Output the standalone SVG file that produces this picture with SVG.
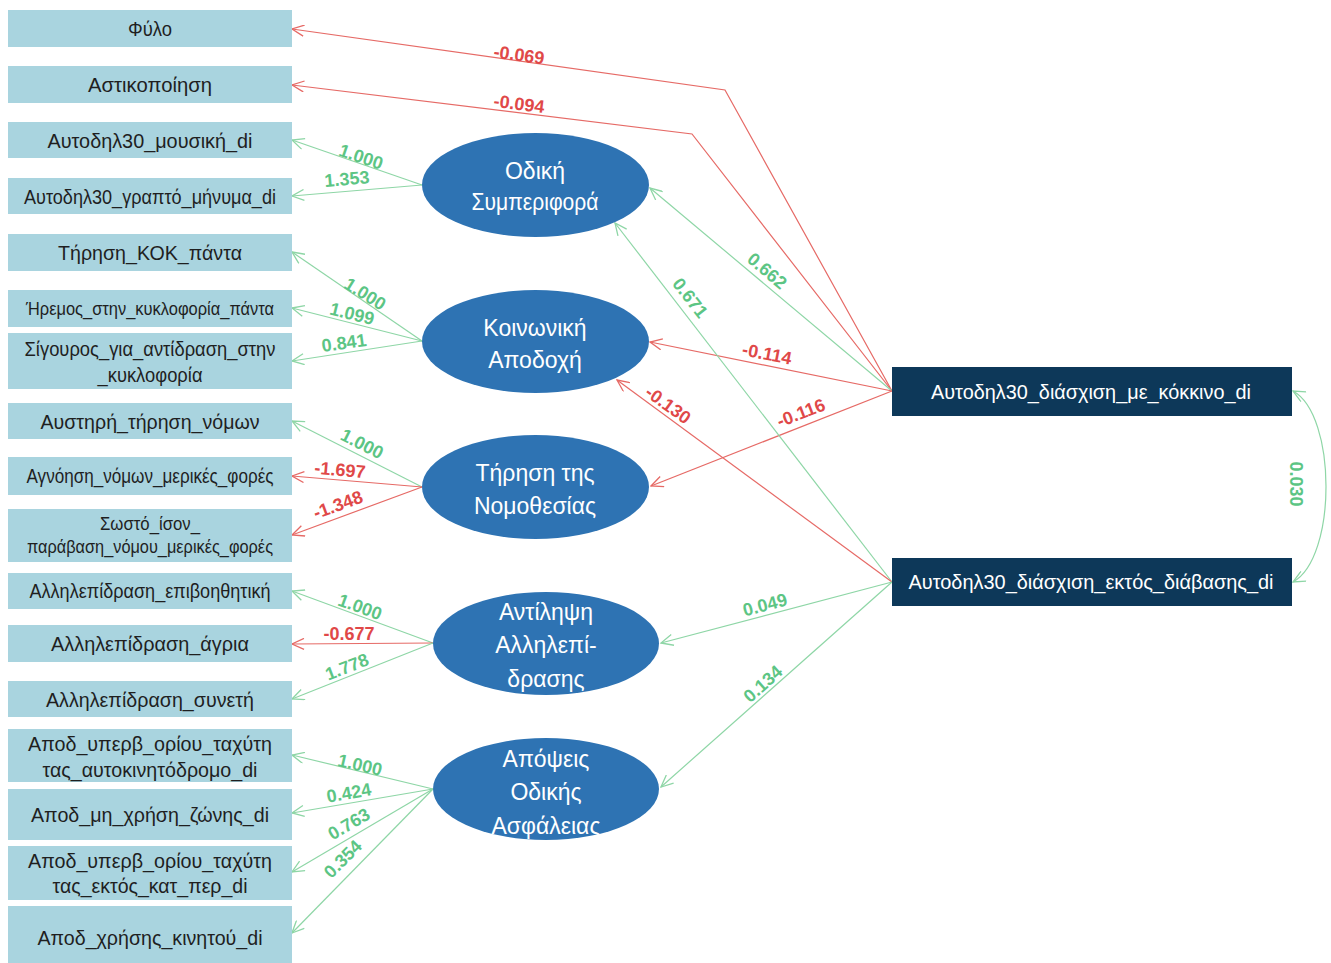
<svg xmlns="http://www.w3.org/2000/svg" width="1331" height="963" viewBox="0 0 1331 963">
<style>
.bx{fill:#a9d4df}
.bt{font-family:"Liberation Sans",Arial,sans-serif;font-size:21px;fill:#1f1f1f;text-anchor:middle}
.el{fill:#2e73b3}
.et{font-family:"Liberation Sans",Arial,sans-serif;font-size:23px;fill:#ffffff;text-anchor:middle}
.rb{fill:#0d3859}
.rt{font-family:"Liberation Sans",Arial,sans-serif;font-size:21px;fill:#ffffff;text-anchor:middle}
.g{fill:none;stroke:#8ed6a6;stroke-width:1.2;marker-end:url(#ag)}
.r{fill:none;stroke:#e66a66;stroke-width:1.2;marker-end:url(#ar)}
.lg,.lr{font-family:"Liberation Sans",Arial,sans-serif;font-size:18px;font-weight:bold;text-anchor:middle;dominant-baseline:central}
.lg{fill:#5cc584}
.lr{fill:#e04848}
</style>
<defs>
<marker id="ag" viewBox="0 0 14 12" refX="13" refY="6" markerWidth="14" markerHeight="12" markerUnits="userSpaceOnUse" orient="auto-start-reverse">
<path d="M1,0.5 L13,6 L1,11.5" fill="none" stroke="#8ed6a6" stroke-width="1.3"/>
</marker>
<marker id="ar" viewBox="0 0 14 12" refX="13" refY="6" markerWidth="14" markerHeight="12" markerUnits="userSpaceOnUse" orient="auto-start-reverse">
<path d="M1,0.5 L13,6 L1,11.5" fill="none" stroke="#e66a66" stroke-width="1.3"/>
</marker>
</defs>

<g id="connectors">
<polyline class="r" points="892,391 725,90 292,29"/>
<polyline class="r" points="892,391 692,134 292,85"/>
<line class="g" x1="422" y1="185" x2="292" y2="140"/>
<line class="g" x1="422" y1="185" x2="292" y2="196"/>
<line class="g" x1="422" y1="341" x2="292" y2="252"/>
<line class="g" x1="422" y1="341" x2="292" y2="308"/>
<line class="g" x1="422" y1="341" x2="292" y2="361"/>
<line class="g" x1="422" y1="487" x2="292" y2="421"/>
<line class="r" x1="422" y1="487" x2="292" y2="476"/>
<line class="r" x1="422" y1="487" x2="292" y2="535"/>
<line class="g" x1="433" y1="643" x2="292" y2="591"/>
<line class="r" x1="433" y1="643" x2="292" y2="644"/>
<line class="g" x1="433" y1="643" x2="292" y2="699"/>
<line class="g" x1="433" y1="789" x2="292" y2="755"/>
<line class="g" x1="433" y1="789" x2="292" y2="813"/>
<line class="g" x1="433" y1="789" x2="292" y2="872"/>
<line class="g" x1="433" y1="789" x2="292" y2="933"/>
<line class="g" x1="892" y1="391" x2="650" y2="188"/>
<line class="r" x1="892" y1="391" x2="650" y2="342"/>
<line class="r" x1="892" y1="391" x2="651" y2="486"/>
<line class="g" x1="892" y1="582" x2="615" y2="223"/>
<line class="r" x1="892" y1="582" x2="617" y2="380"/>
<line class="g" x1="892" y1="582" x2="661" y2="643"/>
<line class="g" x1="892" y1="582" x2="661" y2="787"/>
<path class="g" style="marker-start:url(#ag)" d="M1293,391 C1337,415 1337,558 1293,582"/>

<text class="lr" transform="translate(519,55) rotate(8)">-0.069</text>
<text class="lr" transform="translate(519,104) rotate(7)">-0.094</text>
<text class="lg" transform="translate(361,157) rotate(19)">1.000</text>
<text class="lg" transform="translate(347,179) rotate(-5)">1.353</text>
<text class="lg" transform="translate(365,294) rotate(32)">1.000</text>
<text class="lg" transform="translate(352,314) rotate(14)">1.099</text>
<text class="lg" transform="translate(344,343) rotate(-8)">0.841</text>
<text class="lg" transform="translate(362,444) rotate(27)">1.000</text>
<text class="lr" transform="translate(340,470) rotate(5)">-1.697</text>
<text class="lr" transform="translate(338,505) rotate(-20)">-1.348</text>
<text class="lg" transform="translate(360,607) rotate(20)">1.000</text>
<text class="lr" transform="translate(349,634)">-0.677</text>
<text class="lg" transform="translate(347,667) rotate(-21)">1.778</text>
<text class="lg" transform="translate(360,765) rotate(13)">1.000</text>
<text class="lg" transform="translate(349,793) rotate(-10)">0.424</text>
<text class="lg" transform="translate(349,824) rotate(-30)">0.763</text>
<text class="lg" transform="translate(343,859) rotate(-45)">0.354</text>
<text class="lg" transform="translate(767,271) rotate(40)">0.662</text>
<text class="lg" transform="translate(690,298) rotate(52)">0.671</text>
<text class="lr" transform="translate(767,354) rotate(11)">-0.114</text>
<text class="lr" transform="translate(668,405) rotate(36)">-0.130</text>
<text class="lr" transform="translate(801,413) rotate(-21)">-0.116</text>
<text class="lg" transform="translate(765,605) rotate(-15)">0.049</text>
<text class="lg" transform="translate(763,684) rotate(-42)">0.134</text>
<text class="lg" transform="translate(1296,484) rotate(90)">0.030</text>
</g>

<g id="n-fylo"><rect class="bx" x="8" y="10" width="284" height="37"/><text class="bt" x="150" y="36" textLength="44" lengthAdjust="spacingAndGlyphs">Φύλο</text></g>
<g id="n-astik"><rect class="bx" x="8" y="66" width="284" height="37"/><text class="bt" x="150" y="92" textLength="124" lengthAdjust="spacingAndGlyphs">Αστικοποίηση</text></g>
<g id="n-mousiki"><rect class="bx" x="8" y="122" width="284" height="36"/><text class="bt" x="150" y="148" textLength="205" lengthAdjust="spacingAndGlyphs">Αυτοδηλ30_μουσική_di</text></g>
<g id="n-grapto"><rect class="bx" x="8" y="178" width="284" height="36"/><text class="bt" x="150" y="204" textLength="252" lengthAdjust="spacingAndGlyphs">Αυτοδηλ30_γραπτό_μήνυμα_di</text></g>
<g id="n-kok"><rect class="bx" x="8" y="234" width="284" height="37"/><text class="bt" x="150" y="260" textLength="184" lengthAdjust="spacingAndGlyphs">Τήρηση_ΚΟΚ_πάντα</text></g>
<g id="n-iremos"><rect class="bx" x="8" y="290" width="284" height="37"/><text class="bt" x="150" y="315" style="font-size:18px" textLength="248" lengthAdjust="spacingAndGlyphs">Ήρεμος_στην_κυκλοφορία_πάντα</text></g>
<g id="n-sigouros"><rect class="bx" x="8" y="333" width="284" height="56"/><text class="bt" x="150" y="356" textLength="251" lengthAdjust="spacingAndGlyphs">Σίγουρος_για_αντίδραση_στην</text><text class="bt" x="150" y="382" textLength="105" lengthAdjust="spacingAndGlyphs">_κυκλοφορία</text></g>
<g id="n-afstiri"><rect class="bx" x="8" y="403" width="284" height="36"/><text class="bt" x="150" y="429" textLength="219" lengthAdjust="spacingAndGlyphs">Αυστηρή_τήρηση_νόμων</text></g>
<g id="n-agnoisi"><rect class="bx" x="8" y="457" width="284" height="38"/><text class="bt" x="150" y="483" style="font-size:20px" textLength="247" lengthAdjust="spacingAndGlyphs">Αγνόηση_νόμων_μερικές_φορές</text></g>
<g id="n-sosto"><rect class="bx" x="8" y="509" width="284" height="53"/><text class="bt" x="150" y="530" style="font-size:18px" textLength="100" lengthAdjust="spacingAndGlyphs">Σωστό_ίσον_</text><text class="bt" x="150" y="553" style="font-size:18px" textLength="246" lengthAdjust="spacingAndGlyphs">παράβαση_νόμου_μερικές_φορές</text></g>
<g id="n-epivoith"><rect class="bx" x="8" y="573" width="284" height="36"/><text class="bt" x="150" y="598" style="font-size:20px" textLength="241" lengthAdjust="spacingAndGlyphs">Αλληλεπίδραση_επιβοηθητική</text></g>
<g id="n-agria"><rect class="bx" x="8" y="625" width="284" height="37"/><text class="bt" x="150" y="651" textLength="198" lengthAdjust="spacingAndGlyphs">Αλληλεπίδραση_άγρια</text></g>
<g id="n-syneti"><rect class="bx" x="8" y="681" width="284" height="36"/><text class="bt" x="150" y="707" textLength="208" lengthAdjust="spacingAndGlyphs">Αλληλεπίδραση_συνετή</text></g>
<g id="n-aftokin"><rect class="bx" x="8" y="729" width="284" height="53"/><text class="bt" x="150" y="751" textLength="244" lengthAdjust="spacingAndGlyphs">Αποδ_υπερβ_ορίου_ταχύτη</text><text class="bt" x="150" y="777" textLength="215" lengthAdjust="spacingAndGlyphs">τας_αυτοκινητόδρομο_di</text></g>
<g id="n-zoni"><rect class="bx" x="8" y="789" width="284" height="51"/><text class="bt" x="150" y="822" textLength="238" lengthAdjust="spacingAndGlyphs">Αποδ_μη_χρήση_ζώνης_di</text></g>
<g id="n-ektos"><rect class="bx" x="8" y="846" width="284" height="54"/><text class="bt" x="150" y="868" textLength="244" lengthAdjust="spacingAndGlyphs">Αποδ_υπερβ_ορίου_ταχύτη</text><text class="bt" x="150" y="893" textLength="195" lengthAdjust="spacingAndGlyphs">τας_εκτός_κατ_περ_di</text></g>
<g id="n-kinito"><rect class="bx" x="8" y="906" width="284" height="57"/><text class="bt" x="150" y="945" textLength="225" lengthAdjust="spacingAndGlyphs">Αποδ_χρήσης_κινητού_di</text></g>

<g id="e-odiki"><ellipse class="el" cx="535.5" cy="185" rx="113.5" ry="52"/><text class="et" x="535" y="179">Οδική</text><text class="et" x="535" y="210" textLength="127" lengthAdjust="spacingAndGlyphs">Συμπεριφορά</text></g>
<g id="e-koinoniki"><ellipse class="el" cx="535.5" cy="341.5" rx="113.5" ry="51.5"/><text class="et" x="535" y="336">Κοινωνική</text><text class="et" x="535" y="368">Αποδοχή</text></g>
<g id="e-tirisi"><ellipse class="el" cx="535.5" cy="487" rx="113.5" ry="52"/><text class="et" x="535" y="481">Τήρηση της</text><text class="et" x="535" y="514">Νομοθεσίας</text></g>
<g id="e-antilipsi"><ellipse class="el" cx="546" cy="643.5" rx="113" ry="51.5"/><text class="et" x="546" y="620">Αντίληψη</text><text class="et" x="546" y="653">Αλληλεπί-</text><text class="et" x="546" y="687">δρασης</text></g>
<g id="e-apopseis"><ellipse class="el" cx="546" cy="789" rx="113" ry="51"/><text class="et" x="546" y="767">Απόψεις</text><text class="et" x="546" y="800">Οδικής</text><text class="et" x="546" y="834">Ασφάλειας</text></g>

<g id="n-kokkino"><rect class="rb" x="892" y="367" width="400" height="49"/><text class="rt" x="1091" y="399" textLength="320" lengthAdjust="spacingAndGlyphs">Αυτοδηλ30_διάσχιση_με_κόκκινο_di</text></g>
<g id="n-diavasi"><rect class="rb" x="892" y="558" width="400" height="48"/><text class="rt" x="1091" y="589" textLength="365" lengthAdjust="spacingAndGlyphs">Αυτοδηλ30_διάσχιση_εκτός_διάβασης_di</text></g>
</svg>
